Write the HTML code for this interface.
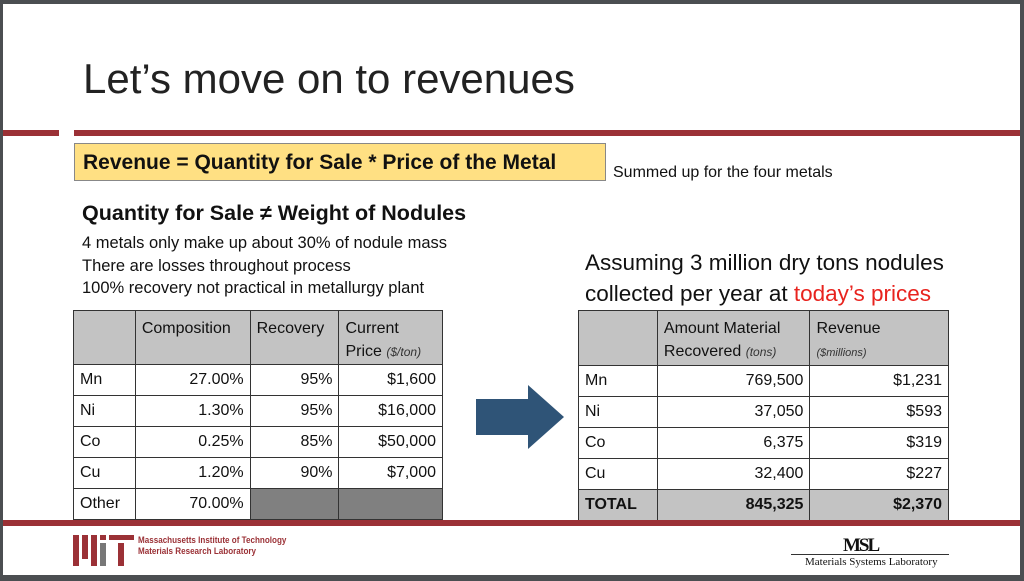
<!DOCTYPE html>
<html><head><meta charset="utf-8"><style>
*{margin:0;padding:0;box-sizing:border-box}
body{width:1024px;height:581px;background:#4b4e51;position:relative;overflow:hidden;font-family:"Liberation Sans",sans-serif;color:#111}
#s{position:absolute;left:3px;top:4px;width:1017px;height:571px;background:#fff}
.a{position:absolute;white-space:nowrap}
table{position:absolute;border-collapse:collapse;font-size:16px}
td{border:1.5px solid #333;padding:0 6px;height:31px}
.h td{background:#c3c3c3;vertical-align:top;padding-top:6px;line-height:23px;height:54px}
td.r{text-align:right}
td.g{background:#c3c3c3}
td.d{background:#808080}
i{font-size:12px;color:#333}
</style></head><body>
<div id="s"></div>
<div class="a" style="left:83px;top:55px;font-size:42px;color:#222">Let’s move on to revenues</div>
<div class="a" style="left:3px;top:130px;width:56px;height:6px;background:#9b3136"></div>
<div class="a" style="left:74px;top:130px;width:946px;height:6px;background:#9b3136"></div>
<div class="a" style="left:74px;top:143px;width:532px;height:38px;background:#ffe083;border:1px solid #888;font-weight:bold;font-size:21px;padding:7px 0 0 8px">Revenue = Quantity for Sale * Price of the Metal</div>
<div class="a" style="left:613px;top:164px;font-size:16px">Summed up for the four metals</div>
<div class="a" style="left:82px;top:201px;font-size:21.5px;font-weight:bold">Quantity for Sale ≠ Weight of Nodules</div>
<div class="a" style="left:82px;top:232px;font-size:16.5px;line-height:22.5px">4 metals only make up about 30% of nodule mass<br>There are losses throughout process<br>100% recovery not practical in metallurgy plant</div>
<table style="left:73px;top:310px;width:370px">
<colgroup><col style="width:62px"><col style="width:115px"><col style="width:89px"><col style="width:104px"></colgroup>
<tr class="h"><td></td><td>Composition</td><td>Recovery</td><td>Current<br>Price <i>($/ton)</i></td></tr>
<tr><td>Mn</td><td class="r">27.00%</td><td class="r">95%</td><td class="r">$1,600</td></tr>
<tr><td>Ni</td><td class="r">1.30%</td><td class="r">95%</td><td class="r">$16,000</td></tr>
<tr><td>Co</td><td class="r">0.25%</td><td class="r">85%</td><td class="r">$50,000</td></tr>
<tr><td>Cu</td><td class="r">1.20%</td><td class="r">90%</td><td class="r">$7,000</td></tr>
<tr><td>Other</td><td class="r">70.00%</td><td class="d"></td><td class="d"></td></tr>
</table>
<svg class="a" style="left:474px;top:383px" width="92" height="68"><polygon points="2,16 54,16 54,2 90,34 54,66 54,52 2,52" fill="#2f5477"/></svg>
<div class="a" style="left:585px;top:247px;font-size:22.5px;line-height:31px">Assuming 3 million dry tons nodules<br>collected per year at <span style="color:#e8231e">today’s prices</span></div>
<table style="left:578px;top:310px;width:371px">
<colgroup><col style="width:79px"><col style="width:153px"><col style="width:139px"></colgroup>
<tr class="h"><td></td><td>Amount Material<br>Recovered <i>(tons)</i></td><td>Revenue<br><i style="font-size:11px">($millions)</i></td></tr>
<tr><td>Mn</td><td class="r">769,500</td><td class="r">$1,231</td></tr>
<tr><td>Ni</td><td class="r">37,050</td><td class="r">$593</td></tr>
<tr><td>Co</td><td class="r">6,375</td><td class="r">$319</td></tr>
<tr><td>Cu</td><td class="r">32,400</td><td class="r">$227</td></tr>
<tr style="font-weight:bold"><td class="g">TOTAL</td><td class="r g">845,325</td><td class="r g">$2,370</td></tr>
</table>
<div class="a" style="left:3px;top:520px;width:1017px;height:6px;background:#9b3136"></div>
<div class="a" style="left:73px;top:535px;width:6px;height:31px;background:#9b3136"></div>
<div class="a" style="left:82px;top:535px;width:6px;height:24px;background:#9b3136"></div>
<div class="a" style="left:91px;top:535px;width:6px;height:31px;background:#9b3136"></div>
<div class="a" style="left:100px;top:535px;width:6px;height:5px;background:#9b3136"></div>
<div class="a" style="left:100px;top:543px;width:6px;height:23px;background:#777"></div>
<div class="a" style="left:109px;top:535px;width:25px;height:5px;background:#9b3136"></div>
<div class="a" style="left:118px;top:543px;width:6px;height:23px;background:#9b3136"></div>
<div class="a" style="left:138px;top:535px;font-size:9.5px;font-weight:bold;color:#9b3136;line-height:11px;transform:scaleX(0.85);transform-origin:left">Massachusetts Institute of Technology<br>Materials Research Laboratory</div>
<div class="a" style="left:843px;top:535px;font-family:'Liberation Serif',serif;font-weight:bold;font-size:19px;letter-spacing:-2px">MSL</div>
<div class="a" style="left:791px;top:554px;width:158px;height:1px;background:#333"></div>
<div class="a" style="left:805px;top:556px;font-family:'Liberation Serif',serif;font-size:11px">Materials Systems Laboratory</div>
</body></html>
